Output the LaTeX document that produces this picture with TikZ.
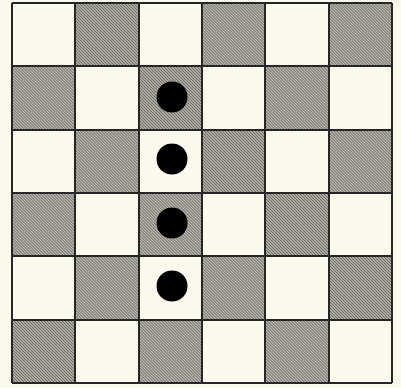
\documentclass[tikz,border=0pt]{standalone}
\begin{document}
\begin{tikzpicture}[x=1pt,y=-1pt,
  hatchline/.style={draw=hatchfg,line width=0.75pt},
  gridline/.style={draw=black!85,line width=1.8pt},
  dot/.style={circle,fill=black,inner sep=0pt,minimum size=31pt}]
\definecolor{paper}{RGB}{251,248,236}
\definecolor{hatchbg}{RGB}{192,189,181}
\definecolor{hatchfg}{RGB}{110,107,101}
\fill[paper] (0,0) rectangle (401,388);
\useasboundingbox (0,0) rectangle (401,388);
\def\cw{63.33}
\def\ox{12}
\def\oy{3}
\foreach \r in {0,...,5}{
  \foreach \c in {0,...,5}{
    \pgfmathtruncatemacro{\myparity}{mod(\r+\c,2)}
    \ifnum\myparity=1
      \begin{scope}
        \clip (\ox+\c*\cw,\oy+\r*\cw) rectangle (\ox+\c*\cw+\cw,\oy+\r*\cw+\cw);
        \fill[hatchbg] (\ox+\c*\cw,\oy+\r*\cw) rectangle (\ox+\c*\cw+\cw,\oy+\r*\cw+\cw);
        \foreach \k in {0,...,43}{
          \draw[hatchline] (\ox+\c*\cw+\k*3-3,\oy+\r*\cw+\cw+2) -- ++(-70,-70);
        }
      \end{scope}
    \fi
  }
}
\foreach \i in {0,...,6}{
  \draw[gridline] (\ox+\i*\cw,\oy) -- (\ox+\i*\cw,\oy+6*\cw);
  \draw[gridline] (\ox,\oy+\i*\cw) -- (\ox+6*\cw,\oy+\i*\cw);
}
\node[dot] (d1) at (172,97) {};
\node[dot] (d2) at (172,159) {};
\node[dot] (d3) at (172,223) {};
\node[dot] (d4) at (172,286) {};
\end{tikzpicture}
\end{document}
